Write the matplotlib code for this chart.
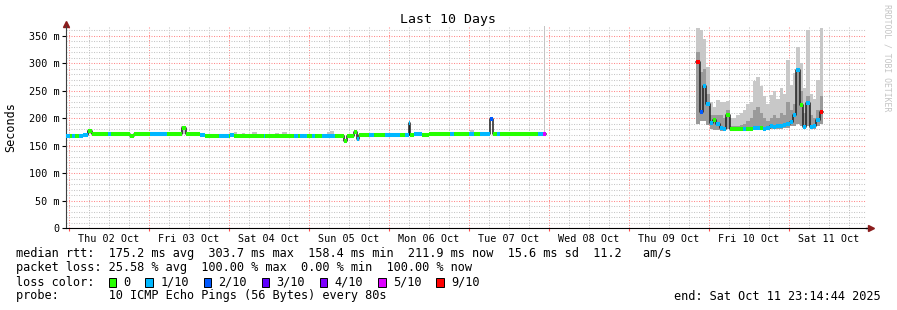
import datetime as dt

import matplotlib
matplotlib.use("Agg")
import matplotlib.dates as mdates
import matplotlib.pyplot as plt
from matplotlib.patches import Rectangle
from matplotlib.ticker import FuncFormatter, MultipleLocator, NullFormatter

OUTPUT_PATH = "out.png"
W, H = 897, 310

plt.rcParams["font.family"] = ["DejaVu Sans Mono"]

# Time reference: hours are counted from Thu 02 Oct 2025 00:00
T0 = dt.datetime(2025, 10, 2)
END = dt.datetime(2025, 10, 11, 23, 14, 44)
START = END - dt.timedelta(days=10)

# loss colours (smokeping defaults) and legend entries
legend_loss = [0, 1, 2, 3, 4, 5, 9]
legend_labels = ["0", "1/10", "2/10", "3/10", "4/10", "5/10", "9/10"]
loss_colors = {0: "#26ff00", 1: "#00b8ff", 2: "#0059ff", 3: "#5e00ff",
               4: "#7e00ff", 5: "#dd00ff", 9: "#ff0000"}

# first block (Oct 2 - Oct 7): segment start hour, median rtt (ms), lost pings
p1_start = [-0.75, 0.5, 1.1, 2.0, 3.0, 4.4, 5.9, 6.9, 11.7, 12.7, 18.5, 19.5,
            24.5, 29.6, 34.1, 35.1, 39.5, 41.0, 45.0, 48.0, 48.5, 49.5, 58.5,
            59.0, 67.5, 68.7, 69.5, 71.6, 73.0, 74.0, 76.0, 80.0, 82.5, 83.6,
            85.5, 86.4, 87.0, 90.0, 91.5, 95.0, 99.5, 101.0, 102.0, 102.5,
            103.5, 106.0, 108.0, 114.5, 115.5, 120.0, 121.5, 123.5, 126.3,
            127.2, 128.6, 129.5, 140.8, 142.2]
p1_end = 143.1
p1_median = [167, 167, 167, 167, 167, 170, 176, 171, 171, 171, 168, 171,
             171, 171, 182, 171, 169, 168, 168, 168, 169, 168, 168,
             168, 168, 168, 168, 168, 168, 168, 168, 168, 158, 168,
             174, 163, 169, 169, 169, 169, 169, 169, 191, 169,
             171, 169, 171, 171, 171, 171, 171, 171, 199,
             171, 171, 171, 171, 171]
p1_loss = [1, 0, 1, 0, 1, 1, 0, 0, 1, 0, 0, 0,
           1, 0, 0, 0, 1, 0, 1, 0, 1, 0, 1,
           0, 1, 0, 1, 0, 1, 0, 1, 0, 0, 0,
           0, 1, 0, 1, 0, 1, 0, 1, 1, 0,
           1, 0, 0, 1, 0, 1, 0, 1, 2,
           0, 1, 0, 1, 5]

# first block smoke puffs: start hour, end hour, low / high (ms)
p1_smoke_start = [5.6, 16.0, 17.5, 33.8, 49.5, 52.0, 55.0, 62.0, 64.0, 77.5,
                  78.5, 116.5, 120.5, 127.5, 142.6]
p1_smoke_end = [6.9, 17.0, 18.3, 35.1, 50.5, 53.0, 56.5, 63.0, 65.5, 78.5,
                79.5, 117.5, 121.5, 128.5, 143.0]
p1_smoke_lo = [171, 171, 171, 171, 168, 168, 168, 168, 168, 168,
               168, 171, 171, 171, 171]
p1_smoke_hi = [178, 174, 174, 186, 174, 173, 174, 173, 175, 175,
               177, 175, 178, 175, 368]

# second block (Oct 9 evening - Oct 11 morning), hourly samples
p2_first = dt.datetime(2025, 10, 9, 20, 18)
p2_step = dt.timedelta(hours=1)
p2_median = [303, 212, 258, 225, 191, 197, 190, 182, 181, 206, 180, 180, 180,
             180, 181, 181, 180, 183, 182, 182, 181, 183, 185, 184, 185, 186,
             188, 190, 193, 206, 288, 224, 184, 227, 184, 185, 197, 211]
p2_loss = [9, 2, 1, 1, 1, 0, 1, 1, 1, 0, 0, 0, 0,
           0, 1, 0, 0, 1, 1, 0, 1, 1, 1, 1, 1, 1,
           1, 1, 1, 1, 1, 0, 1, 1, 1, 1, 1, 9]
p2_lo = [190, 195, 195, 188, 180, 178, 178, 176, 176, 180, 176, 176, 176,
         176, 177, 177, 176, 178, 178, 178, 177, 178, 180, 180, 180, 181,
         182, 183, 185, 186, 190, 185, 180, 185, 180, 180, 185, 190]
p2_inner = [320, 285, 290, 245, 205, 205, 205, 205, 200, 215, 185, 185, 186,
            188, 190, 195, 200, 215, 220, 210, 200, 195, 200, 205, 200, 210,
            205, 230, 215, 225, 290, 250, 210, 240, 205, 200, 215, 240]
p2_hi = [365, 360, 345, 293, 230, 220, 233, 229, 229, 232, 200, 200, 205,
         210, 215, 225, 229, 267, 275, 258, 240, 225, 242, 250, 235, 255,
         245, 306, 260, 282, 330, 300, 255, 360, 245, 235, 270, 365]

median_stats = "median rtt:  175.2 ms avg  303.7 ms max  158.4 ms min  211.9 ms now  15.6 ms sd  11.2   am/s"
loss_stats = "packet loss: 25.58 % avg  100.00 % max  0.00 % min  100.00 % now"
probe_text = "probe:       10 ICMP Echo Pings (56 Bytes) every 80s"
end_text = "end: Sat Oct 11 23:14:44 2025"


def _num(h):
    return mdates.date2num(T0 + dt.timedelta(hours=h))


def _draw_block(ax, edges, median, loss):
    # dark median line underneath, loss-coloured bars on top
    ax.step(edges, median + [median[-1]], where="post", color="#202020", lw=1.1, zorder=3)
    ax.hlines(median, edges[:-1], edges[1:], colors=[loss_colors[v] for v in loss],
              lw=2.9, capstyle="butt", zorder=4)


fig = plt.figure(figsize=(W / 100, H / 100), dpi=100)
ax = fig.add_axes([66.2 / W, 1 - 228 / H, 800 / W, 202 / H])

# block 1
edges1 = [_num(h) for h in p1_start] + [_num(p1_end)]
for s, e, lo, hi in zip(p1_smoke_start, p1_smoke_end, p1_smoke_lo, p1_smoke_hi):
    ax.bar(_num(s), hi - lo, bottom=lo, width=_num(e) - _num(s), align="edge",
           color="#c4c4c4", lw=0, zorder=2)
_draw_block(ax, edges1, p1_median, p1_loss)

# block 2
edges2 = [mdates.date2num(p2_first + i * p2_step) for i in range(len(p2_median) + 1)]
ax.fill_between(edges2, p2_lo + [p2_lo[-1]], p2_hi + [p2_hi[-1]], step="post",
                color="#c8c8c8", lw=0, zorder=2)
ax.fill_between(edges2, p2_lo + [p2_lo[-1]], p2_inner + [p2_inner[-1]], step="post",
                color="#9a9a9a", lw=0, zorder=2)
_draw_block(ax, edges2, p2_median, p2_loss)

ax.set_xlim(mdates.date2num(START), mdates.date2num(END))
ax.set_ylim(0, 368)

# grid: red dotted majors, gray dotted minors
ax.xaxis.set_major_locator(mdates.DayLocator())
ax.xaxis.set_minor_locator(mdates.HourLocator(byhour=[0, 6, 12, 18]))
ax.xaxis.set_major_formatter(NullFormatter())
ax.xaxis.set_minor_formatter(FuncFormatter(
    lambda x, pos: mdates.num2date(x).strftime("%a %d %b") if mdates.num2date(x).hour == 12 else ""))
ax.yaxis.set_major_locator(MultipleLocator(50))
ax.yaxis.set_minor_locator(MultipleLocator(10))
ax.yaxis.set_major_formatter(FuncFormatter(lambda v, pos: "0" if v == 0 else f"{int(v)} m"))

ax.set_axisbelow(True)
ax.grid(which="major", color="#ff8a8a", lw=0.75, linestyle=(0, (1, 1.4)))
ax.grid(which="minor", color="#c6c6c6", lw=0.75, linestyle=(0, (1, 1.4)))

ax.tick_params(axis="x", which="major", length=2.5, color="#ff5050", labelsize=7.3)
ax.tick_params(axis="x", which="minor", length=0, pad=4.2, labelsize=7.3)
ax.tick_params(axis="y", which="major", length=3, width=0.8, pad=1.6, labelsize=7.3)
ax.tick_params(axis="y", which="minor", length=0)

for side in ("top", "right"):
    ax.spines[side].set_visible(False)
ax.spines["left"].set_color("#404040")
ax.spines["bottom"].set_color("black")

# axis arrows
arrow_color = "#8b1c1c"
ax.plot([0, 0], [1, 1.01], transform=ax.transAxes, clip_on=False, color="#404040", lw=1)
ax.plot([0], [1.012], marker="^", ms=4, color=arrow_color, transform=ax.transAxes, clip_on=False)
ax.plot([1, 1.005], [0, 0], transform=ax.transAxes, clip_on=False, color="black", lw=1)
ax.plot([1.006], [0], marker=">", ms=4, color=arrow_color, transform=ax.transAxes, clip_on=False)

# titles and side labels
fig.text(448 / W, 1 - 19 / H, "Last 10 Days", ha="center", va="center", fontsize=9.5)
fig.text(11 / W, 1 - 127 / H, "Seconds", rotation=90, ha="center", va="center", fontsize=8.5)
fig.text(887 / W, 1 - 4 / H, "RRDTOOL / TOBI OETIKER", rotation=270, ha="center", va="top",
         fontsize=5.9, color="#c4c4c4")

# legend block
fs = 8.55
pitch = 7.14
fig.text(16 / W, 1 - 254 / H, median_stats, ha="left", va="center", fontsize=fs)
fig.text(16 / W, 1 - 268 / H, loss_stats, ha="left", va="center", fontsize=fs)
fig.text(16 / W, 1 - 282 / H, "loss color:", ha="left", va="center", fontsize=fs)
fig.text(16 / W, 1 - 296 / H, probe_text, ha="left", va="center", fontsize=fs)
fig.text(881 / W, 1 - 296 / H, end_text, ha="right", va="center", fontsize=fs)

x = 108.7
for loss, label in zip(legend_loss, legend_labels):
    fig.add_artist(Rectangle((x / W, 1 - 286.7 / H), 7.5 / W, 8.4 / H, transform=fig.transFigure,
                             facecolor=loss_colors[loss], edgecolor="black", lw=0.7))
    fig.text((x + 14.6) / W, 1 - 282 / H, label, ha="left", va="center", fontsize=fs)
    x += 14.6 + len(label) * pitch + 15.0

fig.savefig(OUTPUT_PATH, dpi=100, facecolor="white")
plt.close(fig)
